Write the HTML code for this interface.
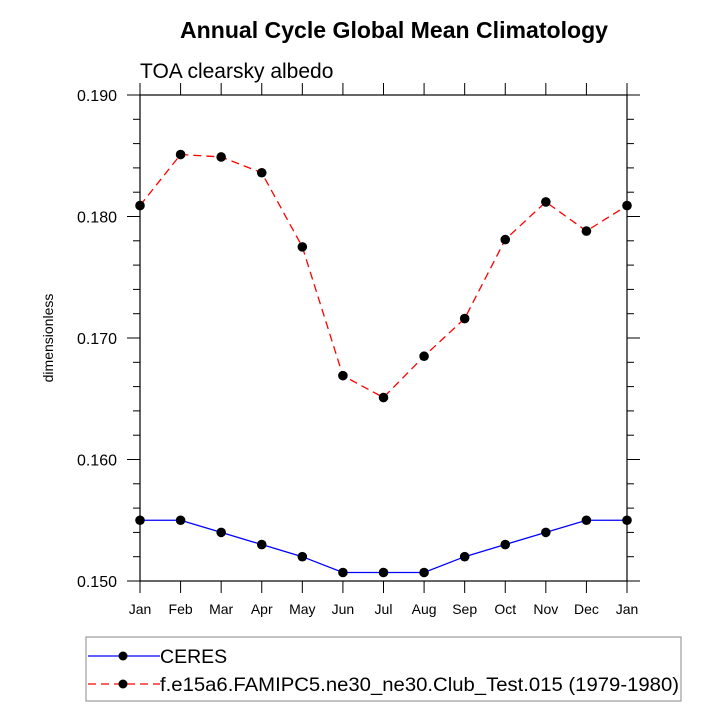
<!DOCTYPE html>
<html><head><meta charset="utf-8"><style>
html,body{margin:0;padding:0;background:#fff;}
svg text{font-family:"Liberation Sans",Arial,sans-serif;}
</style></head><body>
<svg id="chart" width="722" height="722" viewBox="0 0 722 722" xmlns="http://www.w3.org/2000/svg">
<rect width="722" height="722" fill="#fff"/>
<text x="394" y="38" font-size="23" font-weight="bold" text-anchor="middle" textLength="428" lengthAdjust="spacingAndGlyphs">Annual Cycle Global Mean Climatology</text>
<text x="140" y="78" font-size="21">TOA clearsky albedo</text>
<text transform="translate(53,338) rotate(-90)" font-size="14" text-anchor="middle">dimensionless</text>
<g id="axes"></g>
<g id="series"></g>
<g>
<rect x="86" y="637" width="595" height="64" fill="none" stroke="#888" stroke-width="1"/>
<g>
<line x1="88" y1="656" x2="160" y2="656" stroke="#0000ff" stroke-width="1.2"/>
<circle cx="123" cy="656" r="4.5" fill="#000"/>
<text x="160" y="663" font-size="19.5">CERES</text>
</g>
<g>
<line x1="88" y1="684" x2="160" y2="684" stroke="#ff0000" stroke-width="1.2" stroke-dasharray="8,5"/>
<circle cx="123" cy="684" r="4.5" fill="#000"/>
<text x="160" y="691" font-size="19.5" textLength="519" lengthAdjust="spacingAndGlyphs">f.e15a6.FAMIPC5.ne30_ne30.Club_Test.015 (1979-1980)</text>
</g>
</g>
</svg>
<script>
const months = ["Jan","Feb","Mar","Apr","May","Jun","Jul","Aug","Sep","Oct","Nov","Dec","Jan"];
const ceresValues = [0.155,0.155,0.154,0.153,0.152,0.1507,0.1507,0.1507,0.152,0.153,0.154,0.155,0.155];
const modelValues = [0.1809,0.1851,0.1849,0.1836,0.1775,0.1669,0.1651,0.1685,0.1716,0.1781,0.1812,0.1788,0.1809];
const yTickLabels = ["0.150","0.160","0.170","0.180","0.190"];
const yTickValues = [0.150,0.160,0.170,0.180,0.190];
const yMin = 0.150, yMax = 0.190;
const L = 140, R = 627, T = 95, B = 581;
const NS = "http://www.w3.org/2000/svg";
function xs(i){ return L + (R - L) * i / (months.length - 1); }
function ys(v){ return B - (v - yMin) / (yMax - yMin) * (B - T); }
function mk(tag, attrs, parent){ const e = document.createElementNS(NS, tag); for (const k in attrs) e.setAttribute(k, attrs[k]); parent.appendChild(e); return e; }
const axes = document.getElementById('axes');
const frame = mk('rect', {x:L, y:T, width:R-L, height:B-T, fill:'none', stroke:'#000', 'stroke-width':1.2}, axes);


months.forEach((m, i) => {
  const x = xs(i);
  const tb = mk('line', {x1:x, y1:B, x2:x, y2:B+12, stroke:'#000', 'stroke-width':1}, axes);
  
  
  const tt = mk('line', {x1:x, y1:T, x2:x, y2:T-12, stroke:'#000', 'stroke-width':1}, axes);
  
  
  const lb = mk('text', {x:x, y:B+33, 'font-size':14, 'text-anchor':'middle'}, axes);
  
  
  lb.textContent = m;
});
for (let k = 0; k <= 20; k++) {
  const v = yMin + k * 0.002;
  const y = ys(v);
  const major = k % 5 === 0;
  const len = major ? 13 : 7;
  const a = mk('line', {x1:L-len, y1:y, x2:L, y2:y, stroke:'#000', 'stroke-width':1}, axes);
  
  
  const b = mk('line', {x1:R, y1:y, x2:R+len, y2:y, stroke:'#000', 'stroke-width':1}, axes);
  
  
}
yTickValues.forEach((v, i) => {
  const t = mk('text', {x:L-23, y:ys(v)+6, 'font-size':16, 'text-anchor':'end'}, axes);
  
  
  t.textContent = yTickLabels[i];
});
const series = document.getElementById('series');
function drawSeries(vals, color, dash, name){
  const pts = vals.map((v, i) => xs(i) + ',' + ys(v)).join(' ');
  const pl = mk('polyline', {points:pts, fill:'none', stroke:color, 'stroke-width':1.3}, series);
  if (dash) pl.setAttribute('stroke-dasharray', dash);
  
  
  vals.forEach((v, i) => {
    const c = mk('circle', {cx:xs(i), cy:ys(v), r:4.8, fill:'#000'}, series);
    
    
  });
}
drawSeries(modelValues, '#ff0000', '8,5', 'model');
drawSeries(ceresValues, '#0000ff', null, 'ceres');
</script>
</body></html>
